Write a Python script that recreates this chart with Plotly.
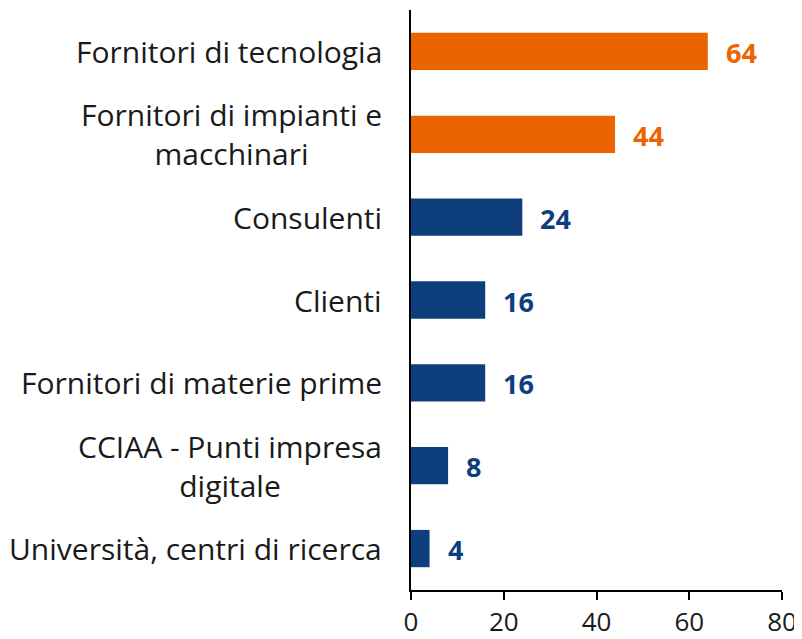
import plotly.graph_objects as go

categories = [
    "Fornitori di tecnologia",
    "Fornitori di impianti e<br>macchinari",
    "Consulenti",
    "Clienti",
    "Fornitori di materie prime",
    "CCIAA - Punti impresa<br>digitale",
    "Università, centri di ricerca",
]
values = [64, 44, 24, 16, 16, 8, 4]
highlight = [True, True, False, False, False, False, False]

ORANGE = "#EC6400"
NAVY = "#0E3F7C"
colors = [ORANGE if h else NAVY for h in highlight]
FONT = "Open Sans"

fig = go.Figure(go.Bar(
    x=values,
    y=categories,
    orientation="h",
    width=0.45,
    marker=dict(color=colors, line=dict(width=0)),
    showlegend=False,
))

# category labels (centred multi-line, right-aligned block)
for cat in categories:
    fig.add_annotation(
        x=0, y=cat, xref="paper", yref="y",
        text=cat, showarrow=False,
        xanchor="right", yanchor="middle", align="center",
        xshift=-27,
        font=dict(family=FONT, size=30, color="#1a1a1a"))

# value labels
for cat, val, col in zip(categories, values, colors):
    fig.add_annotation(
        x=val, y=cat, xref="x", yref="y",
        text="<b>%d</b>" % val, showarrow=False,
        xanchor="left", yanchor="middle", xshift=16, yshift=-1,
        font=dict(family=FONT, size=27, color=col))

# page body adds an 8px offset, so the figure is 8px smaller
fig.update_layout(
    width=794, height=631,
    margin=dict(l=403, r=20, t=2, b=49, autoexpand=False),
    plot_bgcolor="white", paper_bgcolor="white",
    xaxis=dict(
        range=[0, 80], tickvals=[0, 20, 40, 60, 80],
        showgrid=False, zeroline=False,
        showline=True, linecolor="black", linewidth=2,
        ticks="outside", ticklen=8, tickwidth=2, tickcolor="black",
        tickfont=dict(family=FONT, size=26, color="#1a1a1a"),
    ),
    yaxis=dict(
        autorange="reversed", showticklabels=False,
        showgrid=False, zeroline=False,
        showline=True, linecolor="black", linewidth=2,
        ticks="",
    ),
)

fig.write_html("out.html")
